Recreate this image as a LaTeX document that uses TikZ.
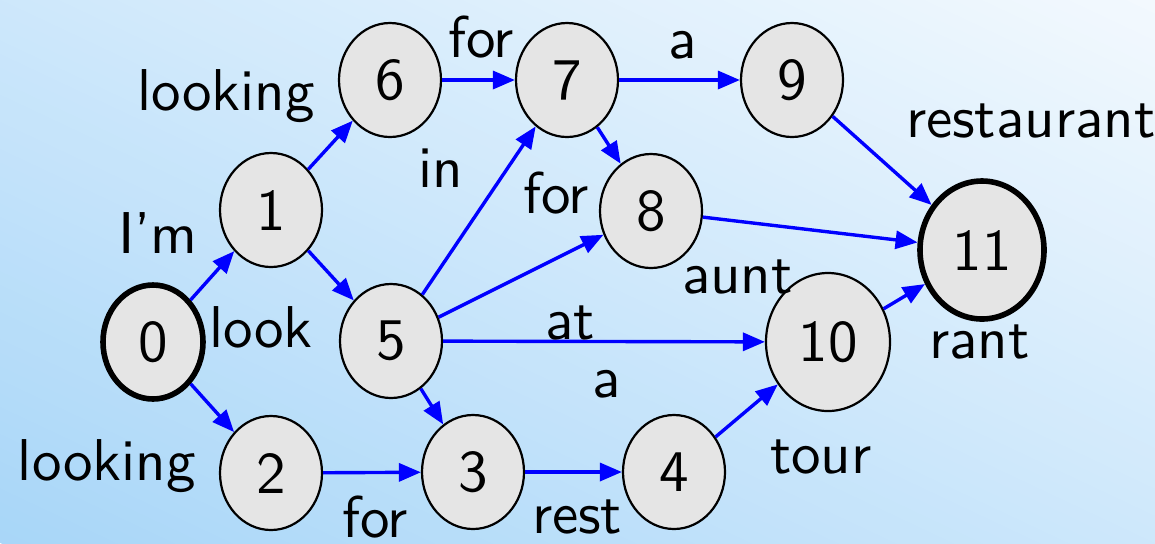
\documentclass[tikz,border=0pt]{standalone}
\usepackage{fontspec}
\newfontfamily\lmsten{lmsans10-regular.otf}
\usetikzlibrary{shapes.geometric,arrows.meta}
\definecolor{bgA}{RGB}{168,214,248}
\definecolor{bgB}{RGB}{243,249,254}
\definecolor{nodefill}{RGB}{229,229,229}
\definecolor{edgeblue}{RGB}{0,0,255}
\tikzset{
  nd/.style={ellipse, draw=black, line width=1.1pt, fill=nodefill, inner sep=0pt,
    minimum width=51pt, minimum height=57pt},
  ndthick/.style={nd, line width=2.8pt},
  edge/.style={draw=edgeblue, line width=1.7pt, -{Triangle[length=11pt,width=9pt]}},
  lbl/.style={anchor=base west, inner sep=0pt, outer sep=0pt}
}
\begin{document}
\begin{tikzpicture}[x=0.5pt, y=-0.5pt, font=\lmsten\fontsize{29.5}{34}\selectfont]
\useasboundingbox (0,0) rectangle (1155,543);
\begin{scope}
  \clip (0,0) rectangle (1155,543);
  \begin{scope}[shift={(577.5,271.5)}, rotate=154.8]
    \foreach \i in {0,...,79} {
      \pgfmathsetmacro\pc{(\i+0.5)*100/80}
      \fill[bgB!\pc!bgA] (-1400,{-491.4+\i*12.285}) rectangle (1400,{-491.4+(\i+1)*12.285+0.8});
    }
  \end{scope}
\end{scope}

% nodes
\node[ndthick, minimum width=50pt, minimum height=57pt] (n0) at (153,342) {0};
\node[nd] (n1) at (271,210) {1};
\node[nd] (n2) at (271,473) {2};
\node[nd] (n3) at (473,472) {3};
\node[nd] (n4) at (674,472) {4};
\node[nd] (n5) at (391,341) {5};
\node[nd] (n6) at (390,80) {6};
\node[nd] (n7) at (567,80) {7};
\node[nd] (n8) at (651,211) {8};
\node[nd] (n9) at (792,80) {9};
\node[nd, minimum width=62pt, minimum height=69pt] (n10) at (828,342) {10};
\node[ndthick, minimum width=62pt, minimum height=69pt] (n11) at (982,250) {11};

% edges
\draw[edge] (n0) -- (n1);
\draw[edge] (n0) -- (n2);
\draw[edge] (n1) -- (n6);
\draw[edge] (n1) -- (n5);
\draw[edge] (n2) -- (n3);
\draw[edge] (n5) -- (n3);
\draw[edge] (n3) -- (n4);
\draw[edge] (n4) -- (n10);
\draw[edge] (n5) -- (n7);
\draw[edge] (n5) -- (n8);
\draw[edge] (n5) -- (n10);
\draw[edge] (n6) -- (n7);
\draw[edge] (n7) -- (n9);
\draw[edge] (n7) -- (n8);
\draw[edge] (n8) -- (n11);
\draw[edge] (n9) -- (n11);
\draw[edge] (n10) -- (n11);

% labels
\node[lbl] (l1) at (137,110) {looking};
\node[lbl] (l2) at (448,57) {for};
\node[lbl] (l3) at (668,58) {a};
\node[lbl] (l4) at (906,137) {restaurant};
\node[lbl] (l5) at (418,187) {in};
\node[lbl] (l6) at (523,213) {for};
\node[lbl] (l7) at (118,253) {I’m};
\node[lbl] (l8) at (209,347) {look};
\node[lbl] (l9) at (682,293) {aunt};
\node[lbl] (l10) at (545,339) {at};
\node[lbl] (l11) at (929,358) {rant};
\node[lbl] (l12) at (592,397) {a};
\node[lbl] (l13) at (18,480) {looking};
\node[lbl] (l14) at (770,473) {tour};
\node[lbl] (l15) at (342,537) {for};
\node[lbl] (l16) at (532,533) {rest};
\end{tikzpicture}
\end{document}
